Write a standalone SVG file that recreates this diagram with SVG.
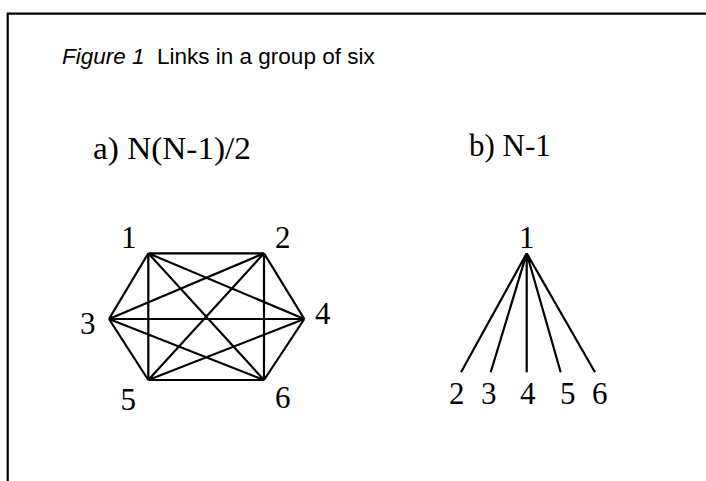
<svg xmlns="http://www.w3.org/2000/svg" width="706" height="481" viewBox="0 0 706 481">
<style>
.ln{stroke:#000;stroke-width:2.2;fill:none;stroke-linecap:butt}
.num{font-family:"Liberation Serif","Times New Roman",serif;font-size:31px;fill:#000}
.ttl{font-family:"Liberation Sans",Arial,sans-serif;font-size:22.5px;fill:#000}
</style>
<rect width="706" height="481" fill="#fff"/>
<g id="frame"><path class="ln" d="M7.7,481 V13.7 H706"/></g>
<g id="title"><text class="ttl" x="62" y="64"><tspan font-style="italic">Figure 1</tspan><tspan dx="12.5">Links in a group of six</tspan></text></g>
<g id="label-a"><text class="num" x="93" y="158.5" textLength="158" lengthAdjust="spacingAndGlyphs">a) N(N-1)/2</text></g>
<g id="label-b"><text class="num" x="469" y="156">b) N-1</text></g>
<g id="connectors">
<path class="ln" d="M148.3,253.3 L264,253.3 M148.3,253.3 L109,319 M148.3,253.3 L304.3,319 M148.3,253.3 L148.3,380 M148.3,253.3 L264,380 M264,253.3 L109,319 M264,253.3 L304.3,319 M264,253.3 L148.3,380 M264,253.3 L264,380 M109,319 L304.3,319 M109,319 L148.3,380 M109,319 L264,380 M304.3,319 L148.3,380 M304.3,319 L264,380 M148.3,380 L264,380"/>
<path class="ln" d="M526.7,253.3 L461,372.3 M526.7,253.3 L490.7,372.3 M526.7,253.3 L526.7,372.3 M526.7,253.3 L560.7,372.3 M526.7,253.3 L595,372.3"/>
</g>
<g id="hex-1"><text class="num" x="121" y="247.5">1</text></g>
<g id="hex-2"><text class="num" x="275" y="248">2</text></g>
<g id="hex-3"><text class="num" x="80" y="334">3</text></g>
<g id="hex-4"><text class="num" x="315" y="324">4</text></g>
<g id="hex-5"><text class="num" x="120.5" y="410">5</text></g>
<g id="hex-6"><text class="num" x="275" y="408">6</text></g>
<g id="star-1"><text class="num" x="519" y="248">1</text></g>
<g id="star-2"><text class="num" x="449" y="404">2</text></g>
<g id="star-3"><text class="num" x="481" y="404">3</text></g>
<g id="star-4"><text class="num" x="520" y="404">4</text></g>
<g id="star-5"><text class="num" x="560" y="404">5</text></g>
<g id="star-6"><text class="num" x="592" y="404">6</text></g>
</svg>
